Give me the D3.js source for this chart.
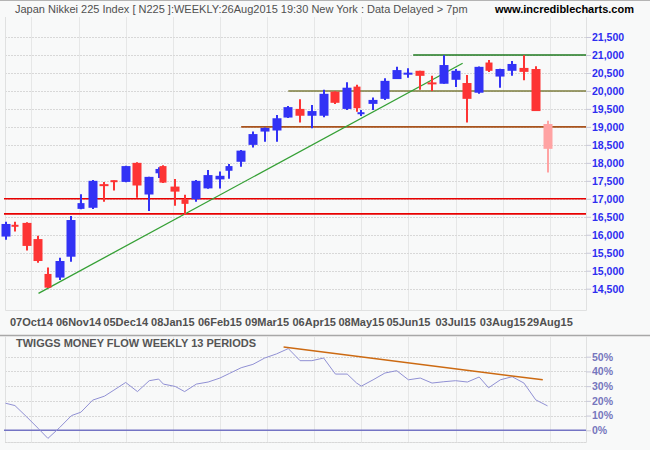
<!DOCTYPE html>
<html><head><meta charset="utf-8">
<script src="https://cdn.jsdelivr.net/npm/d3@7"></script>
<style>html,body{margin:0;padding:0;background:#f8f9f9;}svg{display:block;font-family:"Liberation Sans",Arial,sans-serif;}</style>
</head><body><svg id="c" width="650" height="450"></svg>
<script>
// trading-day index of each weekly bar
const dayIdx = [0,4,9,14,18,23,28,32,37,42,46,51,56,61,65,67,72,76,81,86,91,95,100,105,110,115,120,125,130,135,140,145,149,151,156,161,166,171,176,181,186,191,196,201,205,210,215,220,225,230];
const opens  = [15950,16260,16330,15880,14910,14810,15390,16720,16750,17390,17500,17470,18000,17120,17710,17910,17340,16990,16990,17290,17540,17780,18030,18500,18870,18900,19260,19500,19310,19310,19980,19500,20120,19370,19640,19780,20330,20470,20560,20220,20200,20310,20220,19950,20790,20400,20560,20640,20610,19080];
const highs  = [16360,16360,16350,15970,15090,15360,16520,17130,17520,17470,17510,17920,18020,17610,17880,17930,17550,17110,17520,17800,17760,17970,18360,18870,18980,19330,19580,19770,19610,20030,19990,20240,20170,19470,19820,20350,20670,20630,20560,20420,20990,20610,20440,20680,20860,20620,20830,20990,20690,19170];
const lows   = [15860,16090,15560,15220,14520,14740,15250,16710,16720,16920,17230,17460,17030,16660,17580,17440,16810,16550,16920,17280,17290,17560,17890,18430,18590,18590,19250,19120,18960,19270,19640,19470,19420,19300,19470,19750,20330,20370,20030,20000,20200,20110,19120,19920,20530,20090,20420,20300,19440,17730];
const closes = [16300,16240,15690,15270,14530,15270,16410,16880,17500,17370,17480,17910,17370,17610,17830,17450,17200,16860,17500,17660,17640,17910,18340,18800,18970,19240,19550,19310,19440,19920,19670,20090,19520,19390,19750,20280,20580,20490,20420,20200,20720,20560,19780,20670,20560,20610,20750,20530,19440,18390];
const moneyFlow = [18.4,16.8,9.1,1.1,-5.5,1.9,10,12.3,20.5,23.2,27.3,32.5,26.3,33.7,34.8,31.4,29.8,26.3,31.4,32.8,35.5,38.6,42.5,44.8,49.1,51.9,55.5,47.3,47.3,49.1,38.2,38.2,32.1,30,34.3,38.9,40.5,34.3,35.5,32.1,33,33.7,32.8,36.2,28.9,34.3,36.4,32.1,20.7,16.6];

const priceTicks = [14500,15000,15500,16000,16500,17000,17500,18000,18500,19000,19500,20000,20500,21000,21500];
const mfTicks = [0,10,20,30,40,50];
const dateLabels = ["07Oct14","06Nov14","05Dec14","08Jan15","06Feb15","09Mar15","06Apr15","08May15","05Jun15","03Jul15","03Aug15","29Aug15"];
const labelDays = [11,31,51,71,91,111,131,151,171,191,211,231];

const levelPrices = [21000,20000,19000,17000,16580];
const levelStartDays = [173,120,100,0,0];
const trendDays = [14,194];
const trendPrices = [14370,20770];
const mfTrendDays = [118,228];
const mfTrendValues = [56.6,34.3];

const titleText = "Japan Nikkei 225 Index [ N225 ]:WEEKLY:26Aug2015 19:30 New York : Data Delayed > 7pm";
const siteText = "www.incrediblecharts.com";
const panelTitle = "TWIGGS MONEY FLOW WEEKLY 13 PERIODS";

// ---- layout ----
const svg = d3.select("#c");
const L = 5, R = 586, T = 17, B = 310;
const LT = 336, LB = 442;
const levelColors = ["#1f7a1f","#7d7d3c","#a9531d","#e80000","#e80000"];

const x = d3.scaleLinear().domain([0,230]).range([5.5,547.5]);
const y = d3.scaleLinear().domain([14500,21500]).range([288.7,37]);
const y2 = d3.scaleLinear().domain([0,50]).range([430.3,356.7]);

svg.append("rect").attr("width",650).attr("height",450).attr("fill","#f8f9f9");
svg.append("line").attr("x1",0).attr("x2",650).attr("y1",0.5).attr("y2",0.5).attr("stroke","#b4b4b4");

// grid main
const g = svg.append("g");
g.selectAll(".vg").data(labelDays).join("line")
  .attr("x1",d=>Math.round(x(d))+0.5).attr("x2",d=>Math.round(x(d))+0.5)
  .attr("y1",T).attr("y2",B).attr("stroke","#e6e7e7");
g.selectAll(".hg").data(priceTicks).join("line")
  .attr("x1",L).attr("x2",R).attr("y1",d=>Math.round(y(d))+0.5).attr("y2",d=>Math.round(y(d))+0.5)
  .attr("stroke","#d8d8d8").attr("stroke-dasharray","2,1");
g.append("path").attr("d",`M${L+0.5},${T}V${B+0.5}H${R+0.5}V${T}`).attr("fill","none").attr("stroke","#e0e1e1");

// level lines
svg.selectAll(".lvl").data(levelPrices).join("line")
  .attr("x1",(d,i)=>levelStartDays[i]===0?L-1:x(levelStartDays[i])).attr("x2",R)
  .attr("y1",d=>y(d)).attr("y2",d=>y(d))
  .attr("stroke",(d,i)=>levelColors[i]).attr("stroke-width",1.6);

// trend line
svg.append("line").attr("x1",x(trendDays[0])).attr("y1",y(trendPrices[0]))
  .attr("x2",x(trendDays[1])).attr("y2",y(trendPrices[1]))
  .attr("stroke","#35a035").attr("stroke-width",1.3);

// candles
const n = dayIdx.length;
const cg = svg.append("g");
for (let i=0;i<n;i++){
  const gap = i===0 ? 5 : dayIdx[i]-dayIdx[i-1];
  const w = gap>=5 ? 9 : 7;
  const cx = Math.round(x(dayIdx[i]));
  const col = i===n-1 ? "#ffa3a3" : (closes[i]>=opens[i] ? "#3232f5" : "#fd3434");
  cg.append("line").attr("x1",cx).attr("x2",cx).attr("y1",y(highs[i])).attr("y2",y(lows[i]))
    .attr("stroke",col).attr("stroke-width",2);
  const top = y(Math.max(opens[i],closes[i])), bot = y(Math.min(opens[i],closes[i]));
  const h = Math.max(2, bot-top);
  cg.append("rect").attr("x",cx-w/2).attr("y",h===2?(top+bot)/2-1:top).attr("width",w).attr("height",h).attr("fill",col);
}

// y axis main
const ya = d3.axisRight(y).tickValues(priceTicks).tickFormat(d3.format(",")).tickSize(5).tickPadding(1);
const yag = svg.append("g").attr("transform",`translate(${R},0)`).call(ya);
yag.select(".domain").remove();
yag.selectAll(".tick line").attr("stroke","#c8c8d8");
yag.selectAll("text").attr("fill","#2d2df0").attr("font-weight","bold").attr("font-size","10.5px")
  .attr("font-family",'"Liberation Sans",Arial,sans-serif');

// date labels
svg.selectAll(".dl").data(dateLabels).join("text")
  .attr("x",(d,i)=>x(labelDays[i])).attr("y",326).attr("text-anchor","middle")
  .attr("font-size","11px").attr("font-weight","bold").attr("fill","#505050").text(d=>d);

// separator
svg.append("line").attr("x1",0).attr("x2",650).attr("y1",335.5).attr("y2",335.5).attr("stroke","#a8a8a8").attr("stroke-width",1.5);

// lower panel grid
const g2 = svg.append("g");
g2.selectAll(".vg2").data(labelDays).join("line")
  .attr("x1",d=>Math.round(x(d))+0.5).attr("x2",d=>Math.round(x(d))+0.5)
  .attr("y1",LT+1).attr("y2",LB).attr("stroke","#e6e7e7");
g2.selectAll(".hg2").data(mfTicks.filter(d=>d!==0)).join("line")
  .attr("x1",L).attr("x2",R).attr("y1",d=>Math.round(y2(d))+0.5).attr("y2",d=>Math.round(y2(d))+0.5)
  .attr("stroke","#d8d8d8").attr("stroke-dasharray","2,1");
g2.append("path").attr("d",`M${L+0.5},${LT}V${LB+0.5}H${R+0.5}V${LT}`).attr("fill","none").attr("stroke","#e0e1e1");
g2.append("line").attr("x1",L).attr("x2",R).attr("y1",LB+0.5).attr("y2",LB+0.5).attr("stroke","#d8d8d8").attr("stroke-dasharray","2,1");

// zero line
svg.append("line").attr("x1",L-1).attr("x2",R).attr("y1",y2(0)).attr("y2",y2(0)).attr("stroke","#7474c4").attr("stroke-width",1.5);

// money flow line
const line = d3.line().x((d,i)=>x(dayIdx[i])).y(d=>y2(d));
svg.append("path").datum(moneyFlow).attr("d",line).attr("fill","none").attr("stroke","#9090d4").attr("stroke-width",1);

// money flow trend
svg.append("line").attr("x1",x(mfTrendDays[0])).attr("y1",y2(mfTrendValues[0]))
  .attr("x2",x(mfTrendDays[1])).attr("y2",y2(mfTrendValues[1]))
  .attr("stroke","#cc6a12").attr("stroke-width",1.5);

// lower axis
const ya2 = d3.axisRight(y2).tickValues(mfTicks).tickFormat(d=>d+"%").tickSize(5).tickPadding(1);
const ya2g = svg.append("g").attr("transform",`translate(${R},0)`).call(ya2);
ya2g.select(".domain").remove();
ya2g.selectAll(".tick line").attr("stroke","#c8c8d8");
ya2g.selectAll("text").attr("fill","#7676bd").attr("font-weight","bold").attr("font-size","10.5px")
  .attr("font-family",'"Liberation Sans",Arial,sans-serif');

// titles
svg.append("text").attr("x",15).attr("y",13).attr("font-size","11px").attr("fill","#505050").text(titleText);
svg.append("text").attr("x",495).attr("y",13).attr("font-size","11px").attr("font-weight","bold").attr("fill","#000").text(siteText);
svg.append("text").attr("x",16).attr("y",347).attr("font-size","11px").attr("font-weight","bold").attr("fill","#555").text(panelTitle);
</script></body></html>
